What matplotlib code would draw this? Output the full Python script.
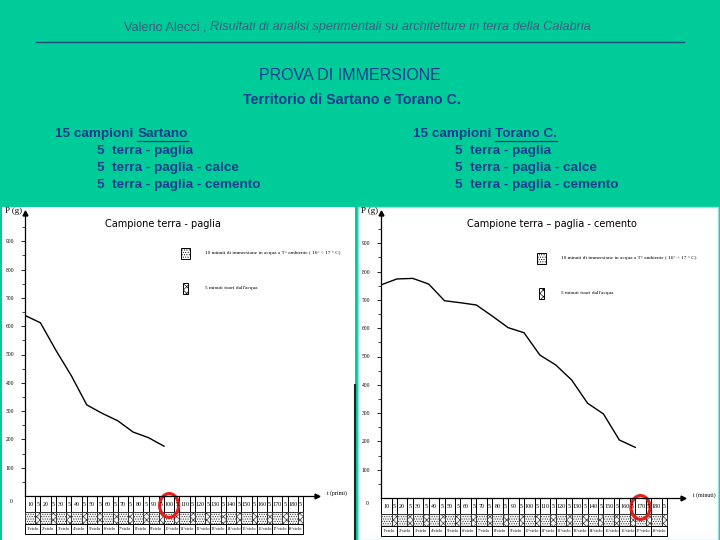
import numpy as np
import matplotlib.pyplot as plt
from matplotlib.patches import Rectangle, Ellipse
from matplotlib.lines import Line2D

# weight (g) vs elapsed time (min)
t_paglia = [0, 15, 30, 45, 60, 75, 90, 105, 120, 135]
p_paglia = [638, 612, 515, 425, 322, 292, 266, 226, 206, 176]

t_cemento = [0, 15, 30, 45, 60, 75, 90, 105, 120, 135, 150, 165, 180, 195, 210, 225, 240]
p_cemento = [753, 774, 776, 756, 697, 690, 682, 643, 602, 584, 505, 470, 417, 335, 297, 205, 179]

# table under the x axis: 18 cycles of 10 min in water + 5 min out
cycle_labels = [10, 20, 30, 40, 50, 60, 70, 80, 90, 100, 110, 120, 130, 140, 150, 160, 170, 180]
t_acqua = 10
t_fuori = 5
y_ticks = [100, 200, 300, 400, 500, 600, 700, 800, 900]

GREEN = '#00CC99'
NAVY = '#1C3A8E'
GREYBLUE = '#41597F'

fig = plt.figure(figsize=(7.2, 5.4), dpi=100)
fig.patch.set_facecolor(GREEN)
rend = fig.canvas.get_renderer()


def fx(x):
    return x / 720


def fy(y):
    return 1 - y / 540


def put(x, y, s, **kw):
    return fig.text(fx(x), fy(y), s, **kw)


def wpx(t):
    return t.get_window_extent(renderer=rend).width


# ---- header ----
h1 = put(0, 27, "Valerio Alecci , ", family='Liberation Sans', size=9.2, color=GREYBLUE, va='center')
h2 = put(0, 27, "Risultati di analisi sperimentali su architetture in terra della Calabria",
         family='Liberation Sans', size=9.2, style='italic', color=GREYBLUE, va='center')
x0 = 357 - (wpx(h1) + wpx(h2)) / 2
h1.set_x(fx(x0))
h2.set_x(fx(x0 + wpx(h1)))
fig.add_artist(Line2D([fx(36), fx(684)], [fy(42), fy(42)], color='#1F4A78', lw=1))

put(350, 75, "PROVA DI IMMERSIONE", family='Liberation Sans', size=11.5, color=NAVY,
    ha='center', va='center')
put(352, 100, "Territorio di Sartano e Torano C.", family='Liberation Sans', size=10.3,
    weight='bold', color=NAVY, ha='center', va='center')

lines = ["5  terra - paglia", "5  terra - paglia - calce", "5  terra - paglia - cemento"]
for xl, place in [(55, "Sartano"), (413, "Torano C.")]:
    a = put(xl, 134, "15 campioni ", family='Liberation Sans', size=9.7, weight='bold',
            color=NAVY, va='center')
    b = put(xl + wpx(a), 134, place, family='Liberation Sans', size=9.7, weight='bold',
            color=NAVY, va='center')
    xs = xl + wpx(a)
    fig.add_artist(Line2D([fx(xs), fx(xs + wpx(b))], [fy(141), fy(141)], color=NAVY, lw=0.9))
    for k, s in enumerate(lines):
        put(xl + 42, 151 + 17 * k, s, family='Liberation Sans', size=9.7, weight='bold',
            color=NAVY, va='center')

# ---- white scanned panels (behind the axes) ----
fig.add_artist(Rectangle((fx(2), fy(540)), 353 / 720, 333 / 540, transform=fig.transFigure,
                         facecolor='white', edgecolor='none', zorder=-5))
fig.add_artist(Rectangle((fx(358), fy(540)), 360 / 720, 333 / 540, transform=fig.transFigure,
                         facecolor='white', edgecolor='#8FE6E0', lw=1, zorder=-5))
fig.add_artist(Line2D([fx(354.5), fx(354.5)], [fy(385), fy(540)], color='#222222', lw=1.5))

plt.rcParams['hatch.linewidth'] = 0.45
plt.rcParams['hatch.color'] = '#444444'


def panel(left, right, zero, top, bottom, t_end, t, p, title, title_x, tlabel, legend_y):
    ax = fig.add_axes([fx(left), fy(bottom), (right - left) / 720, (bottom - top) / 540])
    ppx = (right - left) / t_end  # px per minute
    ymax = (zero - top) * 100 / 28.3
    ymin = -(bottom - zero) * 100 / 28.3
    ax.set_xlim(0, t_end)
    ax.set_ylim(ymin, ymax)
    ax.patch.set_alpha(0)
    for s in ['top', 'right']:
        ax.spines[s].set_visible(False)
    ax.spines['bottom'].set_position(('data', 0))
    ax.spines['bottom'].set_bounds(0, t_end)
    ax.spines['left'].set_bounds(0, ymax)
    for s in ['bottom', 'left']:
        ax.spines[s].set_linewidth(0.9)
    ax.plot([t_end], [0], marker='>', color='k', ms=3.5, clip_on=False)
    ax.plot([0], [ymax], marker='^', color='k', ms=3.5, clip_on=False)
    ax.set_xticks([])
    ax.set_yticks(y_ticks)
    ax.set_yticks([v + 50 for v in [0] + y_ticks], minor=True)
    ax.tick_params(axis='y', which='major', length=3, width=0.6, labelsize=4, pad=5)
    ax.tick_params(axis='y', which='minor', length=2, width=0.5)
    for lab in ax.get_yticklabels():
        lab.set_family('Liberation Serif')

    ax.plot(t, p, color='k', lw=1.0)

    # table rows
    r1, r2, r3 = -57, -100, ymin + 3
    for i, lab in enumerate(cycle_labels):
        s0 = i * (t_acqua + t_fuori)
        s1 = s0 + t_acqua
        s2 = s1 + t_fuori
        for a0, a1, txt, hat in [(s0, s1, str(lab), '.......'), (s1, s2, str(t_fuori), 'xxxxx')]:
            ax.add_patch(Rectangle((a0, r1), a1 - a0, -r1, fill=False, lw=0.7, clip_on=False))
            ax.add_patch(Rectangle((a0, r2), a1 - a0, r1 - r2, facecolor='#F4F4F4',
                                   edgecolor='#333333', hatch=hat, lw=0.7, clip_on=False))
            ax.text((a0 + a1) / 2, r1 / 2, txt, size=4.3, family='Liberation Serif',
                    ha='center', va='center')
        ax.add_patch(Rectangle((s0, r3), s2 - s0, r2 - r3, fill=False, lw=0.7, clip_on=False))
        ax.text((s0 + s2) / 2, (r2 + r3) / 2, f"{i + 1}°ciclo", size=3.2, family='Liberation Serif',
                ha='center', va='center')

    # red circle around the last measured cycle
    ax.add_patch(Ellipse((t[-1] + t_acqua / 2, r1 / 2 - 5), 19 / ppx, 84, fill=False,
                         edgecolor='#E3201B', lw=2.3, clip_on=False))

    ax.text(-14 / ppx, -20, "0", size=4, family='Liberation Serif', ha='center', va='center')
    ax.text(t_end + 10 / ppx, 10, tlabel, size=4.2, family='Liberation Serif', va='center')
    put(left - 20, top - 2, "P (g)", family='Liberation Serif', size=6.5, va='center')
    put(title_x, 224, title, family='DejaVu Sans', size=7, ha='center', va='center')

    # legend of the hatches
    lx = left + 156
    fig.add_artist(Rectangle((fx(lx), fy(legend_y + 6)), 9 / 720, 11 / 540, transform=fig.transFigure,
                             facecolor='white', edgecolor='k', hatch='.......', lw=0.7))
    fig.add_artist(Rectangle((fx(lx + 2), fy(legend_y + 41)), 5 / 720, 11 / 540, transform=fig.transFigure,
                             facecolor='white', edgecolor='k', hatch='xxxxx', lw=0.7))
    put(lx + 24, legend_y, "10 minuti di immersione in acqua a T° ambiente ( 16° ÷ 17 ° C)",
        family='Liberation Serif', size=3.8, va='center')
    put(lx + 24, legend_y + 35, "5 minuti fuori dall'acqua", family='Liberation Serif', size=3.8, va='center')
    return ax


panel(25, 317, 496, 213, 535, 283.6, t_paglia, p_paglia, "Campione terra - paglia", 163,
      "t (primi)", 253)
panel(381, 683, 498, 213, 537, 285.1, t_cemento, p_cemento, "Campione terra – paglia - cemento", 552,
      "t (minuti)", 258)

fig.savefig("out.png", dpi=100, facecolor=fig.get_facecolor())
